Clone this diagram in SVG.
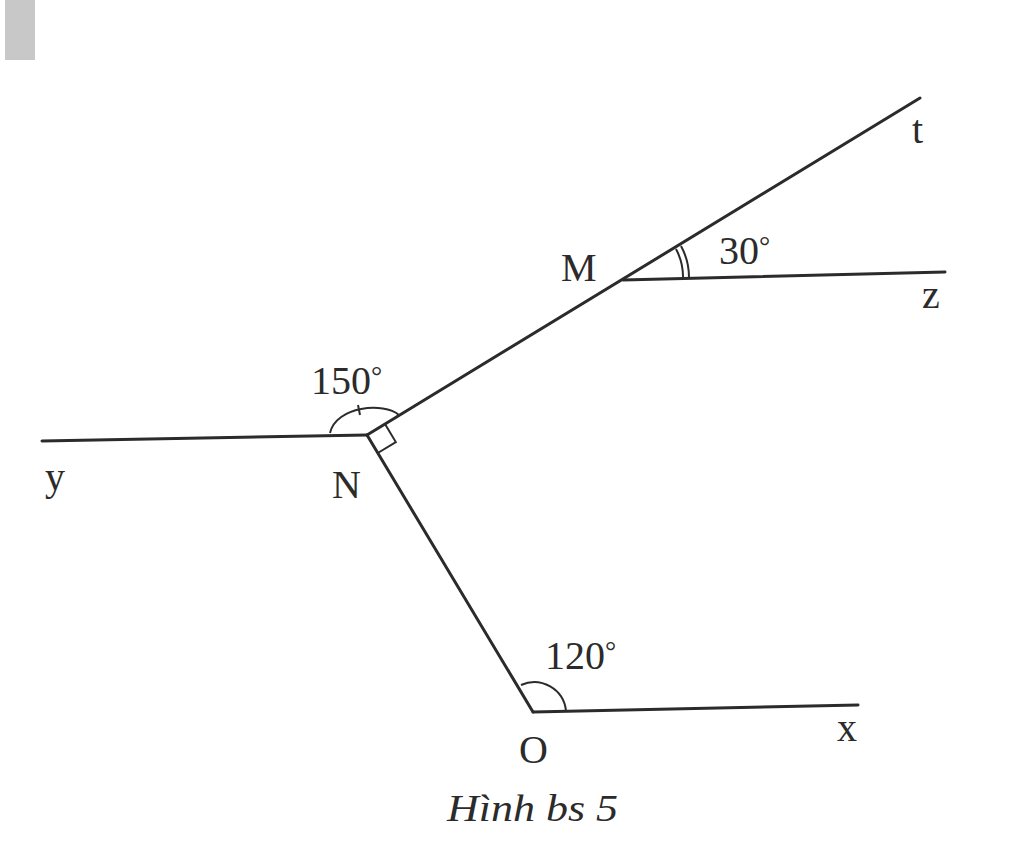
<svg xmlns="http://www.w3.org/2000/svg" width="1024" height="861" viewBox="0 0 1024 861">
<style>
.ln{stroke:#2b2b2b;stroke-width:3;fill:none;stroke-linecap:round}
.mk{stroke:#2b2b2b;stroke-width:2;fill:none}
.lb{font-family:"Liberation Serif",serif;font-size:40px;fill:#2b2b2b}
.dg{font-size:28px}
.cap{font-family:"Liberation Serif",serif;font-size:38px;font-style:italic;fill:#2b2b2b}
</style>
<rect width="1024" height="861" fill="#ffffff"/>
<rect x="5" y="0" width="30" height="60" fill="#c8c8c8"/>
<g id="connectors">
<line class="ln" x1="42" y1="441" x2="367" y2="435"/>
<line class="ln" x1="367" y1="435" x2="920" y2="98"/>
<line class="ln" x1="623" y1="280" x2="945" y2="272"/>
<line class="ln" x1="367" y1="435" x2="533" y2="712"/>
<line class="ln" x1="533" y1="712" x2="858" y2="705"/>
</g>
<g id="marks">
<path class="mk" d="M330,433 C336,406 384,402 399,415"/>
<line class="mk" x1="358" y1="405" x2="360" y2="415"/>
<path class="mk" d="M385,424.1 L395.8,442.1 L377.8,453"/>
<path class="mk" d="M676,249 A60,60 0 0 1 683,279"/>
<path class="mk" d="M681,246 A66,66 0 0 1 689,279"/>
<path class="mk" d="M521,685 A32,32 0 0 1 566,711"/>
</g>
<g id="node-t"><text class="lb" x="912" y="143">t</text></g>
<g id="node-z"><text class="lb" x="922" y="308">z</text></g>
<g id="node-M"><text class="lb" x="561" y="281">M</text><text class="lb" x="719" y="264">30<tspan class="dg" dy="-9">°</tspan></text></g>
<g id="node-N"><text class="lb" x="332" y="498">N</text><text class="lb" x="311" y="394">150<tspan class="dg" dy="-9">°</tspan></text></g>
<g id="node-y"><text class="lb" x="45" y="490">y</text></g>
<g id="node-O"><text class="lb" x="519" y="763">O</text><text class="lb" x="545" y="669">120<tspan class="dg" dy="-9">°</tspan></text></g>
<g id="node-x"><text class="lb" x="837" y="741">x</text></g>
<text class="cap" x="447" y="821" textLength="171" lengthAdjust="spacingAndGlyphs">Hình bs 5</text>
</svg>
